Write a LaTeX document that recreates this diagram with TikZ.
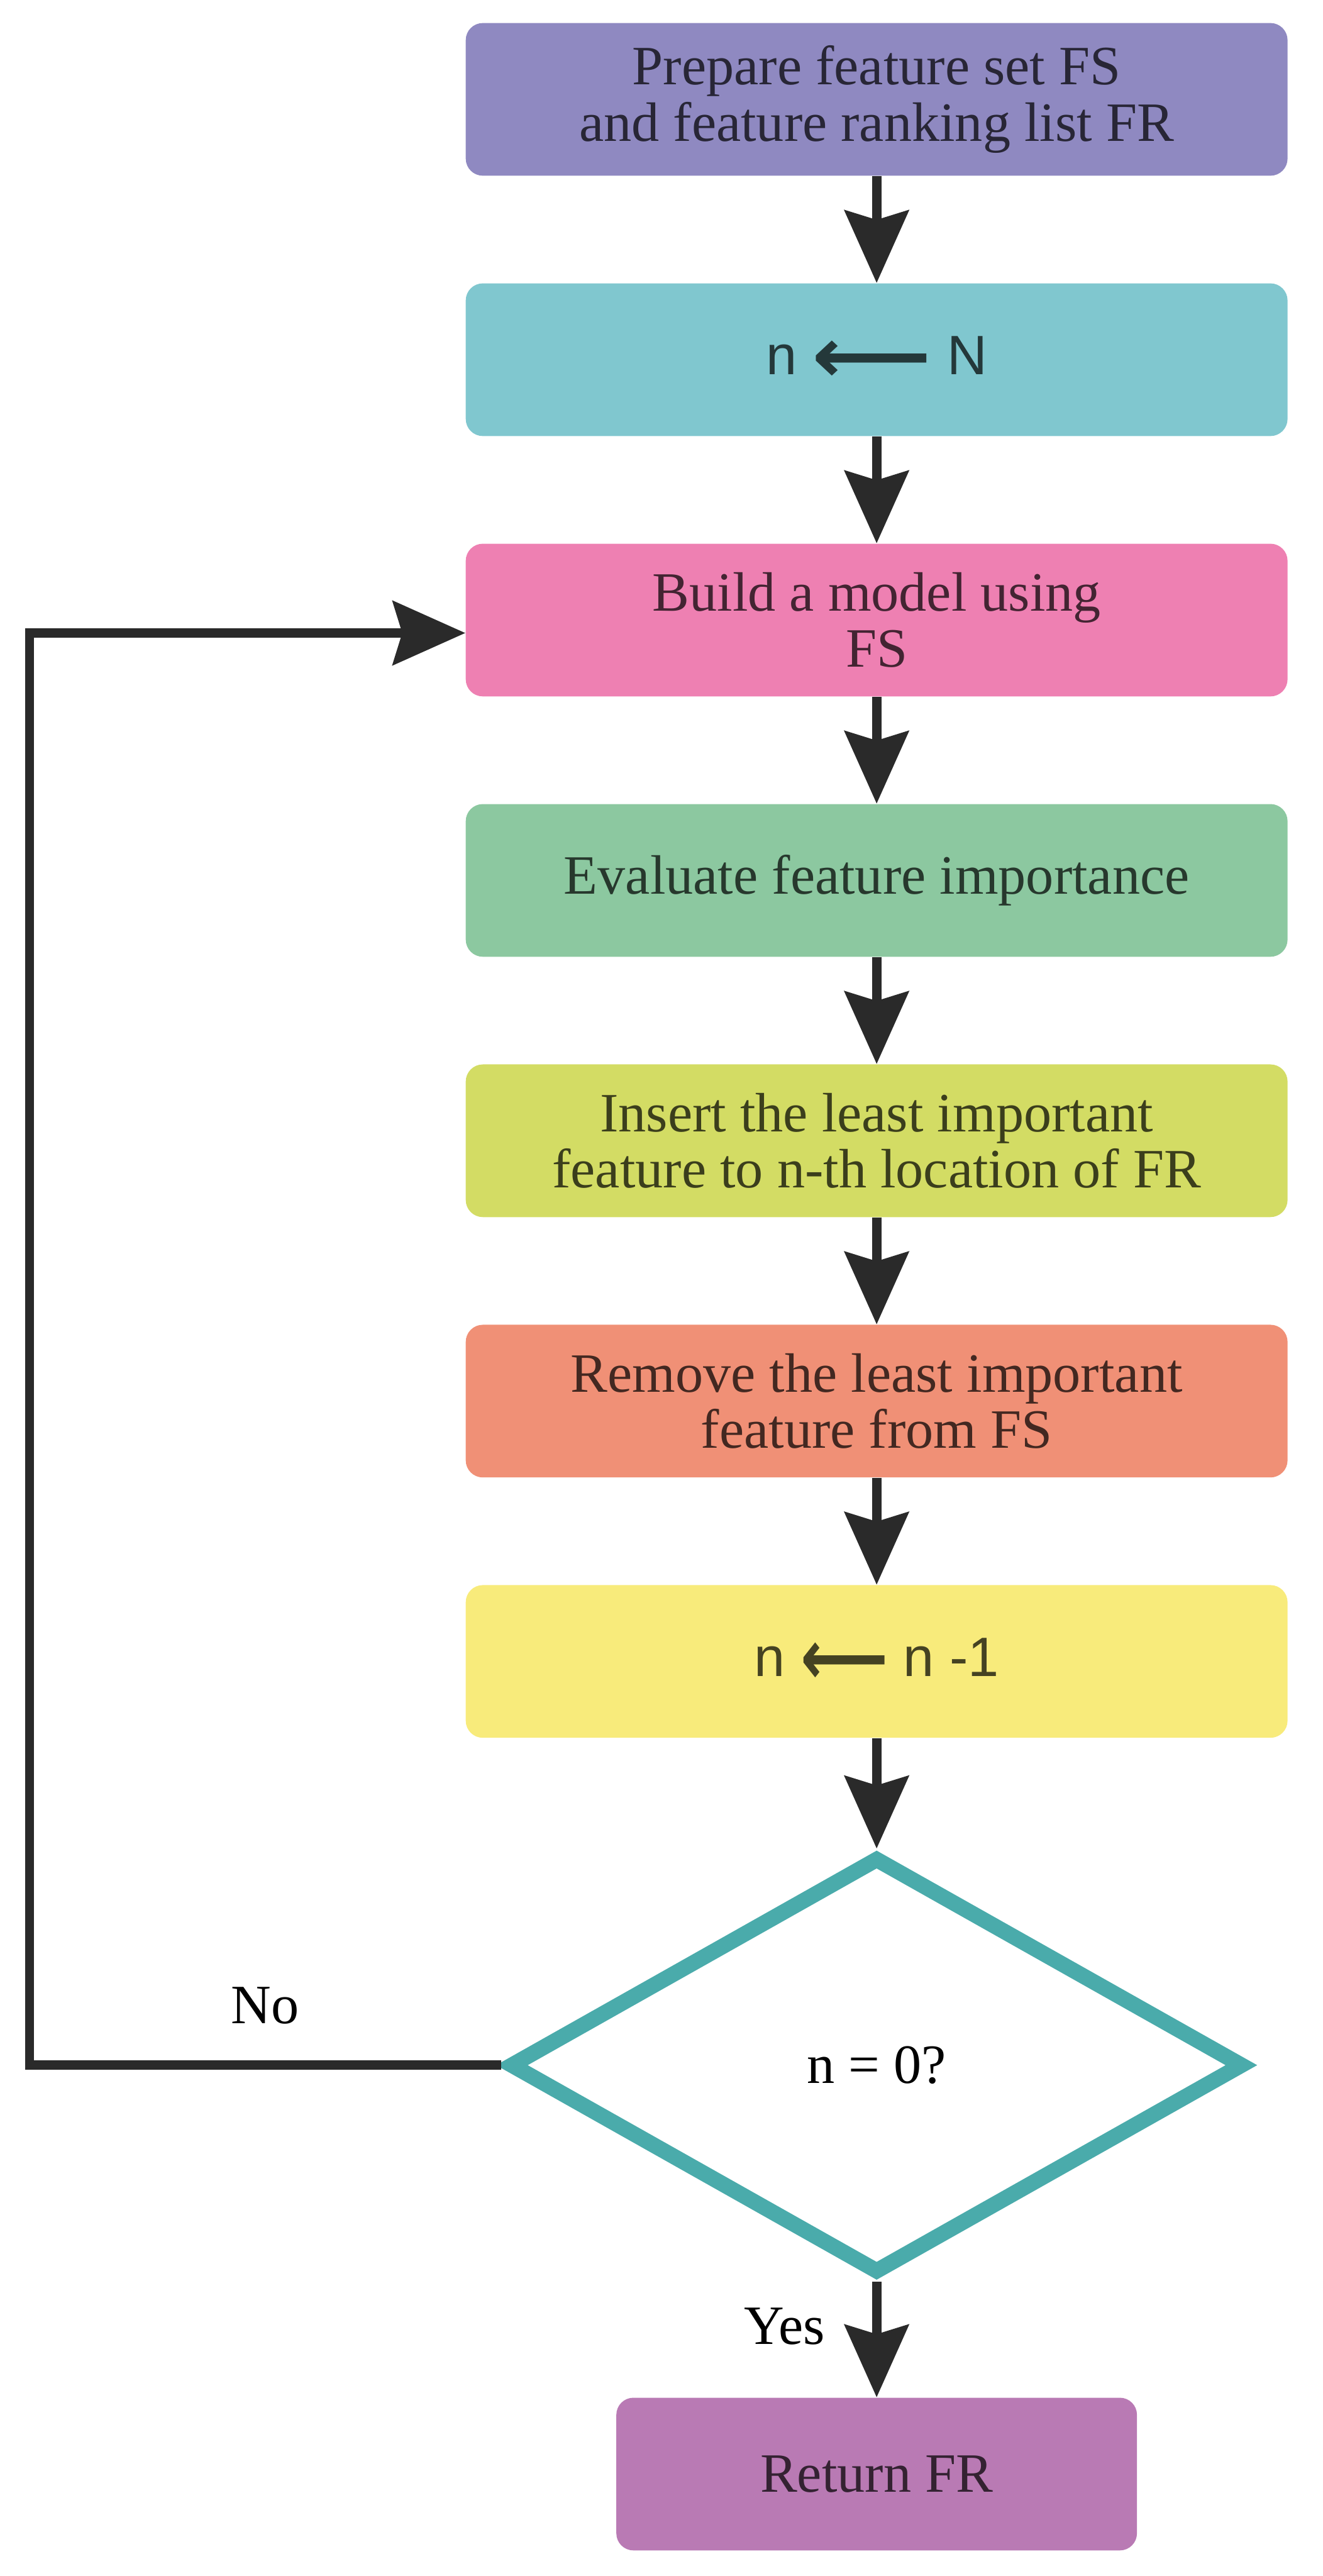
\documentclass[tikz,border=0pt]{standalone}
\usepackage{fontspec}
\setmainfont{Liberation Serif}
\newfontfamily\flowsans{Liberation Sans}
\newfontfamily\flowsym{DejaVu Sans}
\usetikzlibrary{arrows.meta,shapes.geometric}

\definecolor{cPrep}{HTML}{8F89C1}
\definecolor{cInit}{HTML}{80C7CF}
\definecolor{cBuild}{HTML}{EE80B2}
\definecolor{cEval}{HTML}{8CC8A0}
\definecolor{cInsert}{HTML}{D3DC64}
\definecolor{cRemove}{HTML}{F09076}
\definecolor{cDecr}{HTML}{F8EB7B}
\definecolor{cRet}{HTML}{B97AB4}
\definecolor{cDec}{HTML}{4AABAB}
\definecolor{cArrow}{HTML}{2A2A2A}

\newcommand{\flowarrow}[1]{\raisebox{-0.15em}{\scalebox{#1}[1.4]{\flowsym\bfseries ⟵}}}

\begin{document}
\begin{tikzpicture}[
    box/.style={rounded corners=0.33cm, minimum width=15.88cm, minimum height=2.95cm,
      inner sep=0pt, align=center, font=\fontsize{30.5}{31}\selectfont},
    flow/.style={draw=cArrow, line width=0.18cm,
      -{Stealth[length=1.4cm, width=1.23cm, inset=0.18cm]}},
    lbl/.style={font=\fontsize{30.5}{31}\selectfont, inner sep=0pt}]
  \useasboundingbox (0,0) rectangle (25.56,-49.77);
  % main column of steps
  \foreach \i/\c/\t in {
    1/cPrep/{Prepare feature set FS\\and feature ranking list FR},
    2/cInit/{\flowsans n \flowarrow{1.5} N},
    3/cBuild/{Build a model using\\FS},
    4/cEval/{Evaluate feature importance},
    5/cInsert/{Insert the least important\\feature to n-th location of FR},
    6/cRemove/{Remove the least important\\feature from FS},
    7/cDecr/{\flowsans n \flowarrow{1.1} n -1}} {
    \node[box, fill=\c, text=\c!28!black] (b\i) at (16.94,{-1.92-5.03*(\i-1)}) {\t};
  }
  \node[diamond, draw=cDec, line width=0.3cm, minimum width=14.22cm, minimum height=8.07cm,
    inner sep=0pt, font=\fontsize{30.5}{31}\selectfont] (dec) at (16.94,-39.90) {n = 0?};
  \node[box, minimum width=10.06cm, fill=cRet, text=cRet!28!black] (ret) at (16.94,-47.80) {Return FR};
  \coordinate (loopx) at (0.57,0);
  % connectors
  \foreach \i [evaluate=\i as \j using int(\i+1)] in {1,...,6} {
    \draw[flow] (b\i) -- (b\j);
  }
  \draw[flow] (b7) -- (dec);
  \draw[flow] (dec) -- node[lbl, pos=0.54, anchor=base east, xshift=-0.91cm] (yes) {Yes} (ret);
  \draw[flow] (dec.west) -- node[lbl, midway, anchor=base, yshift=0.81cm] (no) {No} (loopx |- dec.west)
    |- ([yshift=-0.25cm]b3.west);
\end{tikzpicture}
\end{document}
